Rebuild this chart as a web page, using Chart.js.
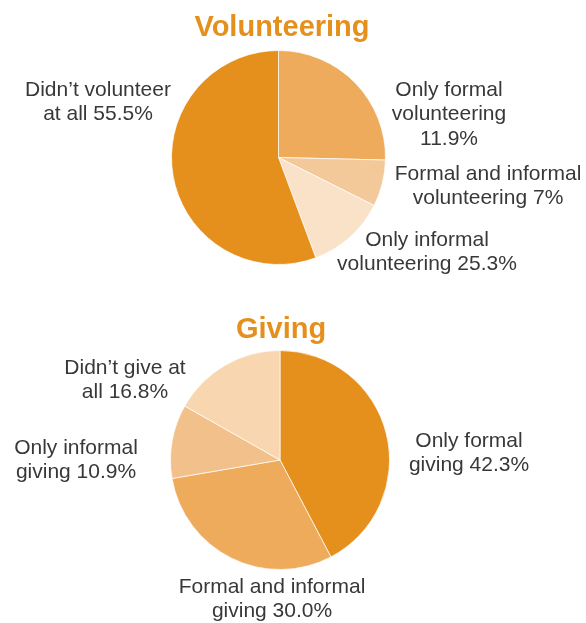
<!DOCTYPE html>
<html>
<head>
<meta charset="utf-8">
<script src="https://cdn.jsdelivr.net/npm/chart.js@4.4.0/dist/chart.umd.min.js"></script>
<style>
    html, body { margin: 0; padding: 0; background: #fff; }
    #wrap { position: relative; width: 586px; height: 623px; }
    canvas { position: absolute; left: 0; }
</style>
</head>
<body>
<div id="wrap">
    <canvas id="graficoVoluntariado" width="586" height="300" style="top:0"></canvas>
    <canvas id="graficoDoacoes" width="586" height="323" style="top:300px"></canvas>
</div>
<script>
// volunteering (slice sizes as drawn, clockwise from 12 o'clock)
const volCategorias = ['Only formal volunteering', 'Formal and informal volunteering', 'Only informal volunteering', "Didn't volunteer at all"];
const volValores = [25.3, 7, 11.9, 55.5];
const volRotulos = [
    ['Only formal', 'volunteering', '11.9%'],
    ['Formal and informal', 'volunteering 7%'],
    ['Only informal', 'volunteering 25.3%'],
    ['Didn\u2019t volunteer', 'at all 55.5%']
];

// giving
const doaCategorias = ['Only formal giving', 'Formal and informal giving', 'Only informal giving', "Didn't give at all"];
const doaValores = [42.3, 30.0, 10.9, 16.8];
const doaRotulos = [
    ['Only formal', 'giving 42.3%'],
    ['Formal and informal', 'giving 30.0%'],
    ['Only informal', 'giving 10.9%'],
    ['Didn\u2019t give at', 'all 16.8%']
];

const laranja = '#E5901C';
const coresVol = [ '#EDAB5B', '#F3C999', '#FAE2C8', laranja ];
const coresDoa = [ laranja, '#EDAB5B', '#F2C08A', '#F8D6AF' ];

// where each label block sits (center x, first line y) in canvas px
const posVol = [[449, 90], [488, 174], [427, 240], [98, 90]];
const posDoa = [[469, 141], [272, 287], [76, 148], [125, 68]];

const rotulosPlugin = {
    id: 'rotulos',
    afterDraw(chart, args, opts) {
        const ctx = chart.ctx;
        ctx.save();
        ctx.textAlign = 'center';
        ctx.textBaseline = 'middle';
        ctx.fillStyle = laranja;
        ctx.font = 'bold 29px "Liberation Sans", Arial, sans-serif';
        ctx.fillText(opts.titulo, opts.tituloX, opts.tituloY);

        ctx.fillStyle = '#383838';
        ctx.font = '21px "Liberation Sans", Arial, sans-serif';
        opts.textos.forEach((linhas, i) => {
            const [x, y] = opts.posicoes[i];
            linhas.forEach((l, j) => ctx.fillText(l, x, y + j * 24.5));
        });
        ctx.restore();
    }
};

function criarPizza(id, categorias, valores, cores, padding, plug) {
    const ctx = document.getElementById(id).getContext('2d');
    return new Chart(ctx, {
        type: 'pie',
        data: {
            labels: categorias,
            datasets: [{
                data: valores,
                backgroundColor: cores,
                borderColor: 'rgba(255,255,255,0.7)',
                borderWidth: 1
            }]
        },
        options: {
            responsive: false,
            animation: false,
            layout: { padding },
            plugins: {
                legend: { display: false },
                tooltip: { enabled: false },
                rotulos: plug
            }
        },
        plugins: [rotulosPlugin]
    });
}

criarPizza('graficoVoluntariado', volCategorias, volValores, coresVol,
    { top: 50, bottom: 35, left: 171, right: 200 },
    { titulo: 'Volunteering', tituloX: 282, tituloY: 28, textos: volRotulos, posicoes: posVol });

criarPizza('graficoDoacoes', doaCategorias, doaValores, coresDoa,
    { top: 50, bottom: 53, left: 170, right: 196 },
    { titulo: 'Giving', tituloX: 281, tituloY: 30, textos: doaRotulos, posicoes: posDoa });
</script>
</body>
</html>
